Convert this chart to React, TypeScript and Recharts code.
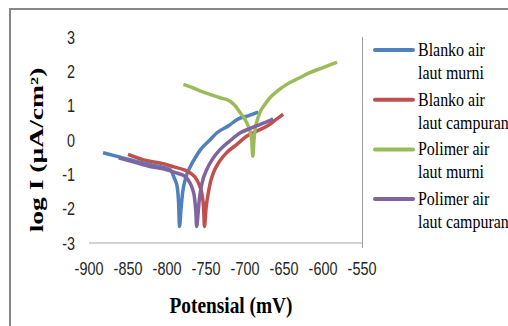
import React from "react";
import { LineChart, Line, XAxis, YAxis } from "recharts";

// Tafel curves: potential (mV) vs log I (µA/cm²)
const blankoMurniX = [-882, -860, -830, -810, -796, -790, -787, -785, -784, -782, -780, -776, -770, -762, -757, -745, -736, -720, -710, -695, -683];
const blankoMurniY = [-0.37, -0.5, -0.67, -0.77, -0.86, -1.15, -1.35, -1.9, -2.52, -2.0, -1.54, -1.1, -0.77, -0.45, -0.28, 0.0, 0.21, 0.43, 0.6, 0.71, 0.81];

const blankoCampuranX = [-850, -830, -809, -790, -779, -769, -762, -758, -755.5, -753, -752, -750, -747, -744, -740.6, -732, -723.5, -710, -698, -685, -672, -660, -651];
const blankoCampuranY = [-0.42, -0.58, -0.67, -0.79, -0.86, -0.98, -1.15, -1.35, -1.54, -2.0, -2.52, -2.0, -1.54, -1.2, -0.96, -0.6, -0.37, -0.12, 0.11, 0.26, 0.4, 0.6, 0.75];

const polimerMurniX = [-779, -768, -757.7, -745, -732, -719, -712, -706.4, -700, -695.8, -693, -691.4, -690, -688.5, -687, -684, -681, -675, -668, -657, -646.5, -632, -617, -600, -582];
const polimerMurniY = [1.62, 1.53, 1.43, 1.33, 1.23, 1.13, 0.98, 0.8, 0.6, 0.4, 0.2, 0.0, -0.47, 0.0, 0.31, 0.6, 0.8, 1.02, 1.23, 1.45, 1.62, 1.79, 1.96, 2.11, 2.27];

const polimerCampuranX = [-862, -840, -822, -805, -788, -777, -770.5, -767, -765, -763, -762, -760, -758.6, -755, -749, -740, -732, -720, -706, -693, -681, -670, -664];
const polimerCampuranY = [-0.52, -0.66, -0.77, -0.84, -0.96, -1.06, -1.25, -1.45, -1.64, -2.1, -2.52, -2.1, -1.74, -1.25, -0.86, -0.5, -0.28, -0.04, 0.21, 0.34, 0.45, 0.55, 0.62];

const xTicks = [-900, -850, -800, -750, -700, -650, -600, -550];
const yTicks = [-3, -2, -1, 0, 1, 2, 3];

const seriesNames = [
  ["Blanko air", "laut murni"],
  ["Blanko air", "laut campuran"],
  ["Polimer air", "laut murni"],
  ["Polimer air", "laut campuran"],
];
const colors = ["#4F81BD", "#C0504D", "#9BBB59", "#8064A2"];

const toPoints = (xs: number[], ys: number[]) => xs.map((x, i) => ({ x, y: ys[i] }));

const series = [
  toPoints(blankoMurniX, blankoMurniY),
  toPoints(blankoCampuranX, blankoCampuranY),
  toPoints(polimerMurniX, polimerMurniY),
  toPoints(polimerCampuranX, polimerCampuranY),
];

const tickFont = "'Liberation Sans', Arial, sans-serif";
const serif = "'Liberation Serif', 'Times New Roman', serif";

const XTick = ({ x, y, payload }: any) => (
  <text transform={`translate(${x},${y + 32}) scale(0.8,1)`} textAnchor="middle" fontFamily={tickFont} fontSize={18} fill="#262626">
    {payload.value}
  </text>
);

const YTick = ({ x, y, payload }: any) => (
  <text transform={`translate(${x - 14},${y + 6.5}) scale(0.8,1)`} textAnchor="end" fontFamily={tickFont} fontSize={18} fill="#262626">
    {payload.value}
  </text>
);

export default function App() {
  return (
    <div style={{ position: "fixed", left: 0, top: 0, width: 508, height: 326, overflow: "hidden", background: "#fff" }}>
      {/* outer chart frame, only its left and top edges are in view */}
      <div
        style={{
          position: "absolute",
          left: 9,
          top: 8,
          width: 600,
          height: 400,
          borderLeft: "2px solid #878787",
          borderTop: "2px solid #878787",
        }}
      />
      <LineChart width={508} height={326} margin={{ top: 37, right: 146, bottom: 53, left: 29 }} style={{ position: "absolute", left: 0, top: 0 }}>
        <XAxis
          type="number"
          dataKey="x"
          domain={[-900, -550]}
          ticks={xTicks}
          allowDataOverflow
          axisLine={{ stroke: "#a6a6a6" }}
          tickLine={false}
          tickSize={0}
          tickMargin={0}
          tick={<XTick />}
          height={30}
        />
        <YAxis
          type="number"
          dataKey="y"
          domain={[-3, 3]}
          ticks={yTicks}
          axisLine={false}
          tickLine={false}
          tickSize={0}
          tickMargin={0}
          tick={<YTick />}
          width={60}
        />
        {series.map((data, i) => (
          <Line
            key={i}
            data={data}
            dataKey="y"
            type="monotone"
            stroke={colors[i]}
            strokeWidth={3.5}
            dot={false}
            activeDot={false}
            isAnimationActive={false}
          />
        ))}
      </LineChart>

      {/* axis titles */}
      <div
        style={{
          position: "absolute",
          left: 37,
          top: 150,
          transform: "translate(-50%,-50%) rotate(-90deg) scale(1.31,0.85)",
          fontFamily: serif,
          fontWeight: "bold",
          fontSize: 21,
          lineHeight: 1,
          whiteSpace: "nowrap",
          color: "#000",
        }}
      >
        log I (µA/cm²)
      </div>
      <div
        style={{
          position: "absolute",
          left: 231,
          top: 305.5,
          transform: "translate(-50%,-50%) scale(0.86,1)",
          fontFamily: serif,
          fontWeight: "bold",
          fontSize: 22.5,
          lineHeight: 1,
          whiteSpace: "nowrap",
          color: "#000",
        }}
      >
        Potensial (mV)
      </div>

      {/* legend */}
      <svg width={508} height={326} style={{ position: "absolute", left: 0, top: 0, pointerEvents: "none" }}>
        <line x1={362.5} y1={37} x2={362.5} y2={248} stroke="#a0a0a0" strokeWidth={1} />
        {seriesNames.map((lines, i) => {
          const my = 50 + i * 49.7;
          return (
            <g key={i}>
              <line x1={375} y1={my} x2={413} y2={my} stroke={colors[i]} strokeWidth={4} strokeLinecap="round" />
              <text transform={`translate(418,${my + 6}) scale(0.84,1)`} fontFamily={serif} fontSize={19} fill="#000">
                {lines[0]}
              </text>
              <text transform={`translate(418,${my + 29}) scale(0.84,1)`} fontFamily={serif} fontSize={19} fill="#000">
                {lines[1]}
              </text>
            </g>
          );
        })}
      </svg>
    </div>
  );
}
